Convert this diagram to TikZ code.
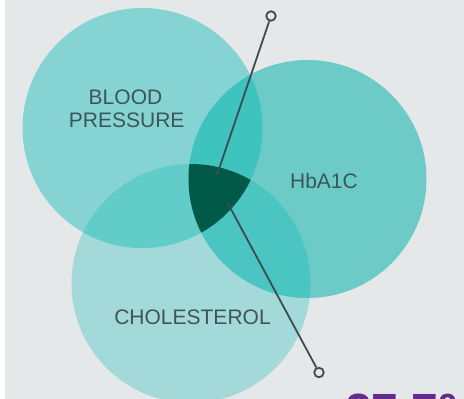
\documentclass[tikz,border=0pt]{standalone}
\usepackage{fontspec}
\setmainfont{Liberation Sans}
\definecolor{bg}{HTML}{E4E8E9}
\definecolor{cBP}{HTML}{85D4D3}
\definecolor{cHB}{HTML}{6DCBC7}
\definecolor{cCH}{HTML}{A4D9D9}
\definecolor{cBPHB}{HTML}{3FC3BF}
\definecolor{cBPCH}{HTML}{62CCC9}
\definecolor{cHBCH}{HTML}{4AC5C2}
\definecolor{cALL}{HTML}{005A47}
\definecolor{txt}{HTML}{3E5558}
\definecolor{linec}{HTML}{3D4C52}
\definecolor{purp}{HTML}{65288C}
\begin{document}
\begin{tikzpicture}[x=1pt,y=-1pt,
  lbl/.style={text=txt,font=\fontsize{21}{25}\selectfont,inner sep=0pt,anchor=base},
  endpt/.style={circle,draw=linec,fill=bg,line width=1.8pt,minimum size=9.5pt,inner sep=0pt},
  conn/.style={draw=linec,line width=1.8pt}]
\useasboundingbox (0,0) rectangle (464,399);
\clip (0,0) rectangle (464,399);
\fill[white] (0,0) rectangle (464,399);
\fill[bg] (5,0) rectangle (464,399);
\def\cbp{(142.5,128) circle[radius=120pt]}
\def\chb{(307.5,179) circle[radius=119pt]}
\def\cch{(191,283.5) circle[radius=119.5pt]}
\fill[cCH] \cch;
\fill[cBP] \cbp;
\fill[cHB] \chb;
\begin{scope}\clip \cbp; \fill[cBPHB] \chb; \end{scope}
\begin{scope}\clip \cbp; \fill[cBPCH] \cch; \end{scope}
\begin{scope}\clip \chb; \fill[cHBCH] \cch; \end{scope}
\begin{scope}\clip \cbp; \clip \chb; \fill[cALL] \cch; \end{scope}
\node[lbl] (bp1) at (125.5,104) {BLOOD};
\node[lbl] (bp2) at (126.7,127.7) {PRESSURE};
\node[lbl] (hb) at (324,188) {HbA1C};
\node[lbl] (ch) at (192.5,324.5) {CHOLESTEROL};
\node[endpt] (e1) at (271,16) {};
\node[endpt] (e2) at (319,372.5) {};
\coordinate (t1) at (217,175);
\coordinate (t2) at (227.3,202.3);
\draw[conn] (e1) -- (t1);
\draw[conn] (t2) -- (e2);
\node[text=purp,font=\fontsize{48}{56}\selectfont\bfseries,inner sep=0pt,anchor=base west] (pct) at (345,427) {27.7\%};
\end{tikzpicture}
\end{document}
